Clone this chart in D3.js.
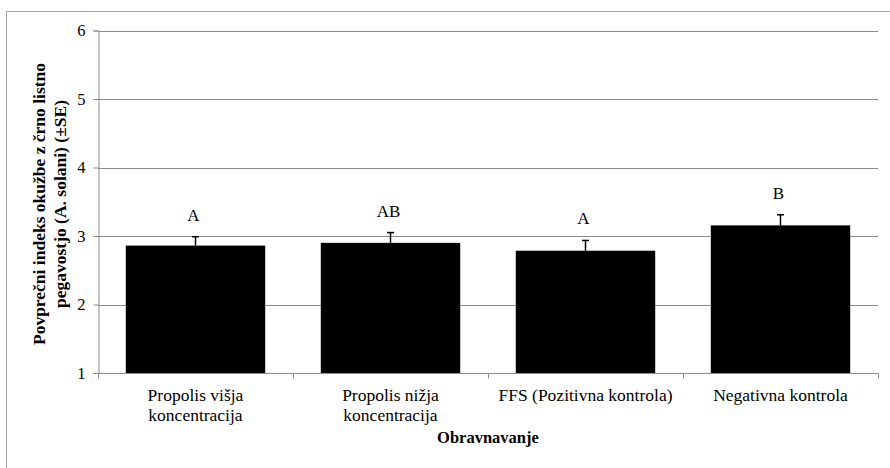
<!DOCTYPE html>
<html>
<head>
<meta charset="utf-8">
<script src="https://cdn.jsdelivr.net/npm/d3@7/dist/d3.min.js"></script>
<style>
  html, body { margin: 0; padding: 0; background: #fff; }
  svg { display: block; }
  text { font-family: "Liberation Serif", "Times New Roman", serif; fill: #000; }
</style>
</head>
<body>
<svg id="chart" width="890" height="468"></svg>
<script>
// Treatments (category labels, split into lines)
const categories = [
  "Propolis višja|koncentracija",
  "Propolis nižja|koncentracija",
  "FFS (Pozitivna kontrola)",
  "Negativna kontrola"
];
// Mean infection index and standard error
const means = [2.86, 2.90, 2.785, 3.155];
const errors = [0.13, 0.15, 0.15, 0.155];
// Significance letters
const letters = ["A", "AB", "A", "B"];
// Y axis ticks
const yTicks = [1, 2, 3, 4, 5, 6];

const svg = d3.select("#chart");
const margin = { left: 98, top: 30.5 };
const plotRight = 878;
const axisColor = "#8c8c8c";

// Outer frame
svg.append("rect")
  .attr("x", 6.5).attr("y", 11.5)
  .attr("width", 900).attr("height", 470)
  .attr("fill", "none").attr("stroke", "#a6a6a6").attr("stroke-width", 1);

const x = d3.scaleBand()
  .domain(categories)
  .range([margin.left, plotRight])
  .paddingInner(0.285)
  .paddingOuter(0.1425);

const y = d3.scaleLinear()
  .domain([1, 6])
  .range([373, margin.top]);

// Gridlines
svg.append("g")
  .selectAll("line")
  .data(yTicks.filter(d => d > 1))
  .join("line")
  .attr("x1", margin.left).attr("x2", plotRight)
  .attr("y1", d => Math.round(y(d)) + 0.5).attr("y2", d => Math.round(y(d)) + 0.5)
  .attr("stroke", axisColor).attr("stroke-width", 1);

// Y axis
const yAxis = svg.append("g")
  .attr("transform", `translate(${margin.left + 0.5},0)`)
  .call(d3.axisLeft(y).tickValues(yTicks).tickSize(5).tickPadding(8).tickFormat(d3.format("d")));
yAxis.attr("font-family", null);
yAxis.select(".domain").attr("stroke", axisColor);
yAxis.selectAll(".tick line").attr("stroke", axisColor);
yAxis.selectAll(".tick text")
  .style("font-family", "'Liberation Serif', serif")
  .style("font-size", "16.5px")
  .attr("fill", "#000");

// Bars
svg.append("g")
  .selectAll("rect")
  .data(means)
  .join("rect")
  .attr("x", (d, i) => x(categories[i]))
  .attr("width", x.bandwidth())
  .attr("y", d => y(d))
  .attr("height", d => y(1) - y(d))
  .attr("fill", "#000");

// Error bars (upper only)
const eb = svg.append("g").attr("stroke", "#000").attr("stroke-width", 1.5);
means.forEach((m, i) => {
  const cx = x(categories[i]) + x.bandwidth() / 2;
  eb.append("line").attr("x1", cx).attr("x2", cx)
    .attr("y1", y(m)).attr("y2", y(m + errors[i]));
  eb.append("line").attr("x1", cx - 3.5).attr("x2", cx + 3.5)
    .attr("y1", y(m + errors[i])).attr("y2", y(m + errors[i]));
});

// Significance letters
svg.append("g")
  .selectAll("text")
  .data(letters)
  .join("text")
  .attr("x", (d, i) => x(categories[i]) + x.bandwidth() / 2 - 2)
  .attr("y", (d, i) => y(means[i] + errors[i]) - 16)
  .attr("text-anchor", "middle")
  .style("font-size", "17px")
  .text(d => d);

// X axis
const xAxis = svg.append("g")
  .attr("transform", `translate(0,${373.5})`);
xAxis.append("line")
  .attr("x1", margin.left).attr("x2", plotRight + 0.5)
  .attr("stroke", axisColor);
const edges = categories.map(c => x(c) - x.step() * x.paddingInner() / 2).concat([plotRight]);
xAxis.selectAll("line.tick")
  .data(edges)
  .join("line")
  .attr("class", "tick")
  .attr("x1", d => Math.round(d) + 0.5).attr("x2", d => Math.round(d) + 0.5)
  .attr("y1", 0).attr("y2", 5)
  .attr("stroke", axisColor);

// Category labels
svg.append("g")
  .selectAll("text")
  .data(categories)
  .join("text")
  .attr("x", d => x(d) + x.bandwidth() / 2)
  .attr("y", 401)
  .attr("text-anchor", "middle")
  .style("font-size", "17.5px")
  .each(function(d) {
    const t = d3.select(this);
    d.split("|").forEach((line, k) => {
      t.append("tspan")
        .attr("x", x(d) + x.bandwidth() / 2)
        .attr("dy", k === 0 ? 0 : 19.5)
        .text(line);
    });
  });

// X axis title
svg.append("text")
  .attr("x", (margin.left + plotRight) / 2)
  .attr("y", 443)
  .attr("text-anchor", "middle")
  .style("font-size", "16.5px")
  .style("font-weight", "bold")
  .text("Obravnavanje");

// Y axis title
const yt = svg.append("text")
  .attr("transform", `translate(0,204) rotate(-90)`)
  .attr("text-anchor", "middle")
  .style("font-size", "17.5px")
  .style("font-weight", "bold");
yt.append("tspan").attr("x", 0).attr("y", 45).text("Povprečni  indeks okužbe  z črno listno");
yt.append("tspan").attr("x", 0).attr("y", 66).text("pegavostjo  (A. solani) (±SE)");
</script>
</body>
</html>
